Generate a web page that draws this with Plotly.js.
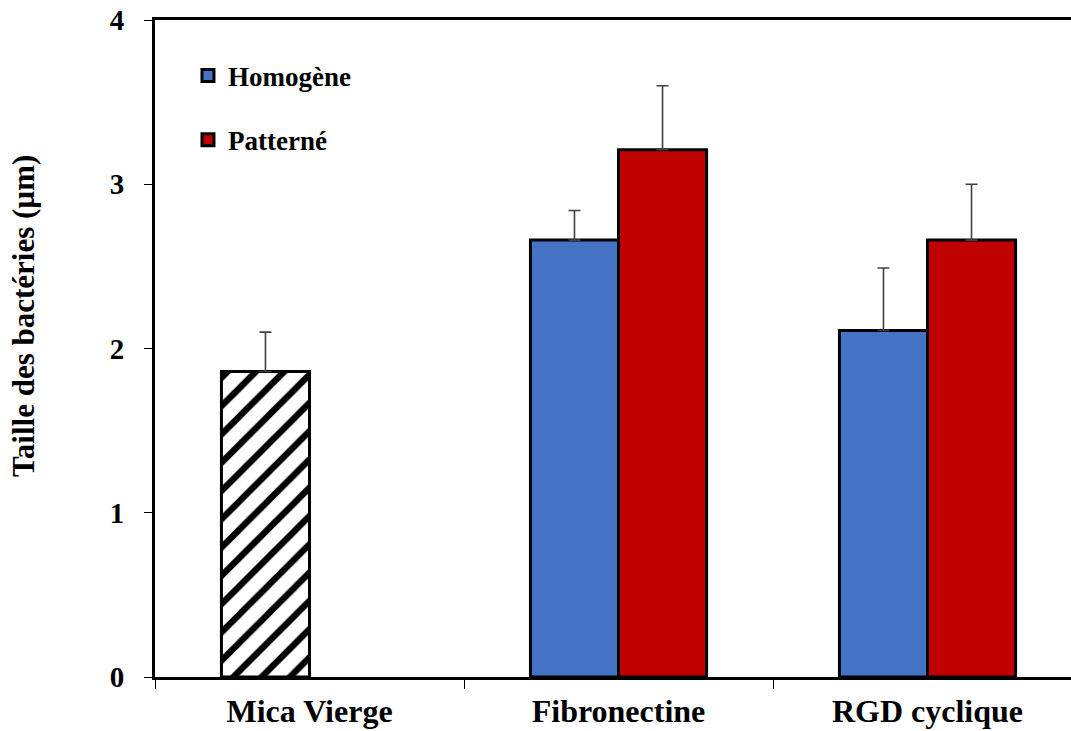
<!DOCTYPE html>
<html>
<head>
<meta charset="utf-8">
<script src="https://cdn.plot.ly/plotly-3.0.1.min.js"></script>
<style>html,body{margin:0;padding:0;background:#fff;}#chart{width:1071px;height:731px;}</style>
</head>
<body>
<div id="chart"></div>
<script>
const categories = ["Mica Vierge", "Fibronectine", "RGD cyclique"];
const micaCategory = ["Mica Vierge"];
const micaValue = [1.86];
const micaError = [0.24];
const homogeneCategories = ["Fibronectine", "RGD cyclique"];
const homogeneValues = [2.66, 2.11];
const homogeneErrors = [0.18, 0.38];
const patterneCategories = ["Fibronectine", "RGD cyclique"];
const patterneValues = [3.21, 2.66];
const patterneErrors = [0.39, 0.34];
const yTicks = [0, 1, 2, 3, 4];
const yTitle = "Taille des bactéries (µm)";

const FONT = "Liberation Serif, Times New Roman, serif";
const errStyle = (arr) => ({type: "data", array: arr, arrayminus: arr.map(() => 0), symmetric: false,
  color: "#404040", thickness: 1.6, width: 6});

const traces = [
  {type: "bar", x: micaCategory, y: micaValue, name: "Mica Vierge", showlegend: false,
   offsetgroup: "1", error_y: errStyle(micaError),
   marker: {color: "#000000", line: {color: "#000000", width: 3},
            pattern: {shape: "/", fgcolor: "#000000", bgcolor: "#ffffff", size: 20, solidity: 0.32}}},
  {type: "bar", x: homogeneCategories, y: homogeneValues, name: "Homogène", legendgroup: "a",
   offsetgroup: "1", error_y: errStyle(homogeneErrors),
   marker: {color: "#4472C4", line: {color: "#000000", width: 3}}},
  {type: "bar", x: patterneCategories, y: patterneValues, name: "Patterné", legendgroup: "b",
   offsetgroup: "2", error_y: errStyle(patterneErrors),
   marker: {color: "#C00000", line: {color: "#000000", width: 3}}}
];

const layout = {
  width: 1071, height: 731,
  margin: {l: 155, r: 0, t: 20, b: 54},
  paper_bgcolor: "#ffffff", plot_bgcolor: "#ffffff",
  barmode: "group", bargap: 0.43, bargroupgap: 0,
  font: {family: FONT, color: "#000000"},
  showlegend: true,
  legend: {x: 0.036, y: 0.952, xanchor: "left", yanchor: "top", bgcolor: "rgba(0,0,0,0)",
           font: {family: FONT, size: 27, color: "#000000", weight: "bold"},
           traceorder: "grouped", tracegroupgap: 26, itemwidth: 30},
  xaxis: {type: "category", categoryorder: "array", categoryarray: categories,
          range: [-0.5, -0.5 + 916 / 309],
          showline: true, linecolor: "#000000", linewidth: 3, mirror: true,
          ticks: "outside", tickson: "boundaries", ticklen: 9, tickwidth: 1, tickcolor: "#000000",
          showgrid: false, zeroline: false, ticklabelstandoff: 4,
          tickfont: {family: FONT, size: 32, color: "#000000", weight: "bold"}},
  yaxis: {range: [0, 4], tickvals: yTicks, ticktext: yTicks.map(String),
          showline: true, linecolor: "#000000", linewidth: 3, mirror: false,
          ticks: "outside", ticklen: 8, tickwidth: 1, tickcolor: "#000000",
          showgrid: false, zeroline: false, ticklabelstandoff: 14,
          tickfont: {family: FONT, size: 29, color: "#000000", weight: "bold"}},
  annotations: [{text: yTitle, xref: "paper", yref: "paper", x: (23 - 155) / 916, y: (677 - 316) / 657,
                 xanchor: "center", yanchor: "middle", textangle: -90, showarrow: false,
                 font: {family: FONT, size: 31, color: "#000000", weight: "bold"}}]
};

Plotly.newPlot("chart", traces, layout, {displayModeBar: false, staticPlot: true});
</script>
</body>
</html>
